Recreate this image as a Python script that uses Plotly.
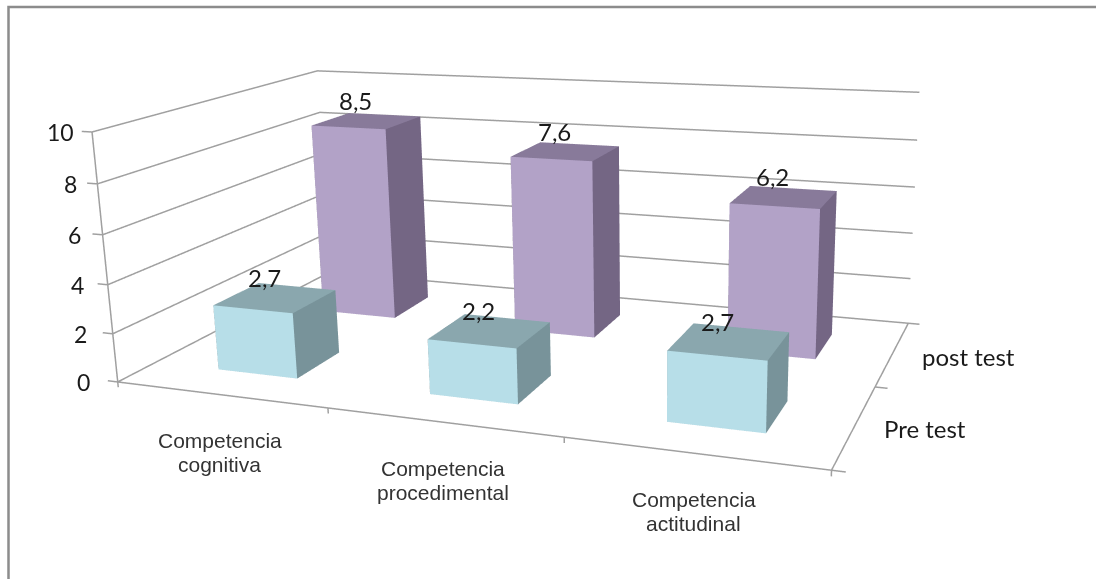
import plotly.graph_objects as go

category_lines = [("Competencia", "cognitiva"), ("Competencia", "procedimental"), ("Competencia", "actitudinal")]
series_names = ["Pre test", "post test"]
pre_test = [2.7, 2.2, 2.7]
post_test = [8.5, 7.6, 6.2]
z_ticks = [0, 2, 4, 6, 8, 10]

PRE = dict(front="#B7DEE8", top="#8AA7AE", side="#78939A")
POST = dict(front="#B2A2C7", top="#887A9A", side="#746684")
BAR_W = 0.385
BAR_D = 0.40
BAR_CENTER = 0.51
GRID = "#A0A0A0"
INK = "#1A1A1A"
# The plot area is taller than the page so the perspective stays gentle;
# the page is then slid up so the chart sits in the visible window.
FIG_W, FIG_H, PAGE_H, SLIDE = 1096, 1260, 579, 340


def add_bar(fig, cat, row, value, col):
    x0, x1 = cat + BAR_CENTER - BAR_W / 2, cat + BAR_CENTER + BAR_W / 2
    y0, y1 = row + 0.5 - BAR_D / 2, row + 0.5 + BAR_D / 2
    xs = [x0, x1, x1, x0, x0, x1, x1, x0]
    ys = [y0, y0, y1, y1, y0, y0, y1, y1]
    zs = [0, 0, 0, 0, value, value, value, value]
    tris = [
        (0, 1, 5, col["front"]), (0, 5, 4, col["front"]),
        (1, 2, 6, col["side"]), (1, 6, 5, col["side"]),
        (4, 5, 6, col["top"]), (4, 6, 7, col["top"]),
        (3, 2, 6, col["side"]), (3, 6, 7, col["side"]),
        (0, 3, 7, col["side"]), (0, 7, 4, col["side"]),
        (0, 1, 2, col["side"]), (0, 2, 3, col["side"]),
    ]
    fig.add_trace(go.Mesh3d(
        x=xs, y=ys, z=zs,
        i=[t[0] for t in tris], j=[t[1] for t in tris], k=[t[2] for t in tris],
        facecolor=[t[3] for t in tris], flatshading=True,
        lighting=dict(ambient=1, diffuse=0, specular=0, roughness=1, fresnel=0),
        hoverinfo="skip", showscale=False,
    ))


def add_line(fig, xs, ys, zs):
    fig.add_trace(go.Scatter3d(x=xs, y=ys, z=zs, mode="lines",
                               line=dict(color=GRID, width=3),
                               hoverinfo="skip", showlegend=False))


fig = go.Figure()

# Gridlines run along the left wall and then along the back wall.
for t in z_ticks:
    add_line(fig, [0, 0, 3], [0, 2, 2], [t, t, t])
    add_line(fig, [-0.05, 0], [0, 0], [t, t])
add_line(fig, [0, 0], [0, 0], [0, 10])
add_line(fig, [0, 3, 3], [0, 0, 2], [0, 0, 0])
for c in range(4):
    add_line(fig, [c, c], [0, 0], [0, -0.22])
for r in range(3):
    add_line(fig, [3, 3.05], [r, r], [0, 0])

for c in range(3):
    add_bar(fig, c, 1, post_test[c], POST)
for c in range(3):
    add_bar(fig, c, 0, pre_test[c], PRE)

notes = []
for t in z_ticks:
    notes.append(dict(x=0, y=0, z=t, text=str(t), showarrow=False, xanchor="right", xshift=-26 + t,
                      font=dict(family="Lato", size=23, color=INK)))
for c, (first, second) in enumerate(category_lines):
    notes.append(dict(x=c + 0.5, y=0, z=0, text=first, showarrow=False, yshift=-46,
                      font=dict(family="Liberation Sans", size=21, color="#333333")))
    notes.append(dict(x=c + 0.5, y=0, z=0, text=second, showarrow=False, yshift=-70,
                      font=dict(family="Liberation Sans", size=21, color="#333333")))
for r, name in enumerate(series_names):
    notes.append(dict(x=3, y=r + 0.5, z=0, text=name, showarrow=False, xanchor="left", xshift=27, yshift=-3,
                      font=dict(family="Lato", size=24, color=INK)))
for c in range(3):
    for row, values in enumerate([pre_test, post_test]):
        notes.append(dict(x=c + 0.5, y=row + 0.5, z=values[c], text=f"{values[c]}".replace(".", ","),
                          showarrow=False, xshift=-9, yshift=20,
                          font=dict(family="Lato", size=24, color=INK)))

hidden = dict(visible=False, showgrid=False, zeroline=False, showbackground=False)
top = 1 - (SLIDE + 7) / FIG_H
bottom = 1 - (SLIDE + PAGE_H + 4) / FIG_H
fig.update_layout(
    width=FIG_W, height=FIG_H, margin=dict(l=0, r=0, t=0, b=0),
    paper_bgcolor="white", showlegend=False,
    # Frame of the chart area: left and top edges only.
    shapes=[dict(type="path", xref="paper", yref="paper",
                 path=f"M {8.5 / FIG_W} {bottom} L {8.5 / FIG_W} {top} L 1 {top}",
                 line=dict(color="#8C8C8C", width=2.5))],
    scene=dict(
        xaxis=dict(hidden, range=[-0.1, 3.1]),
        yaxis=dict(hidden, range=[-0.1, 2.1]),
        zaxis=dict(hidden, range=[-0.3, 10.3]),
        aspectmode="manual", aspectratio=dict(x=2.0053, y=1.254, z=0.7038),
        camera=dict(eye=dict(x=1.499, y=-3.678, z=0.979),
                    center=dict(x=0.0956, y=-0.0996, z=-0.1212),
                    up=dict(x=-0.0818, y=0.2633, z=0.961)),
        annotations=notes,
        domain=dict(x=[0, 1], y=[0, 1]),
    ),
)
fig.write_html(
    "out.html",
    post_script=(
        "document.getElementById('{plot_id}').style.marginTop='-%dpx';"
        "document.documentElement.style.overflow='hidden';" % SLIDE
    ),
)
